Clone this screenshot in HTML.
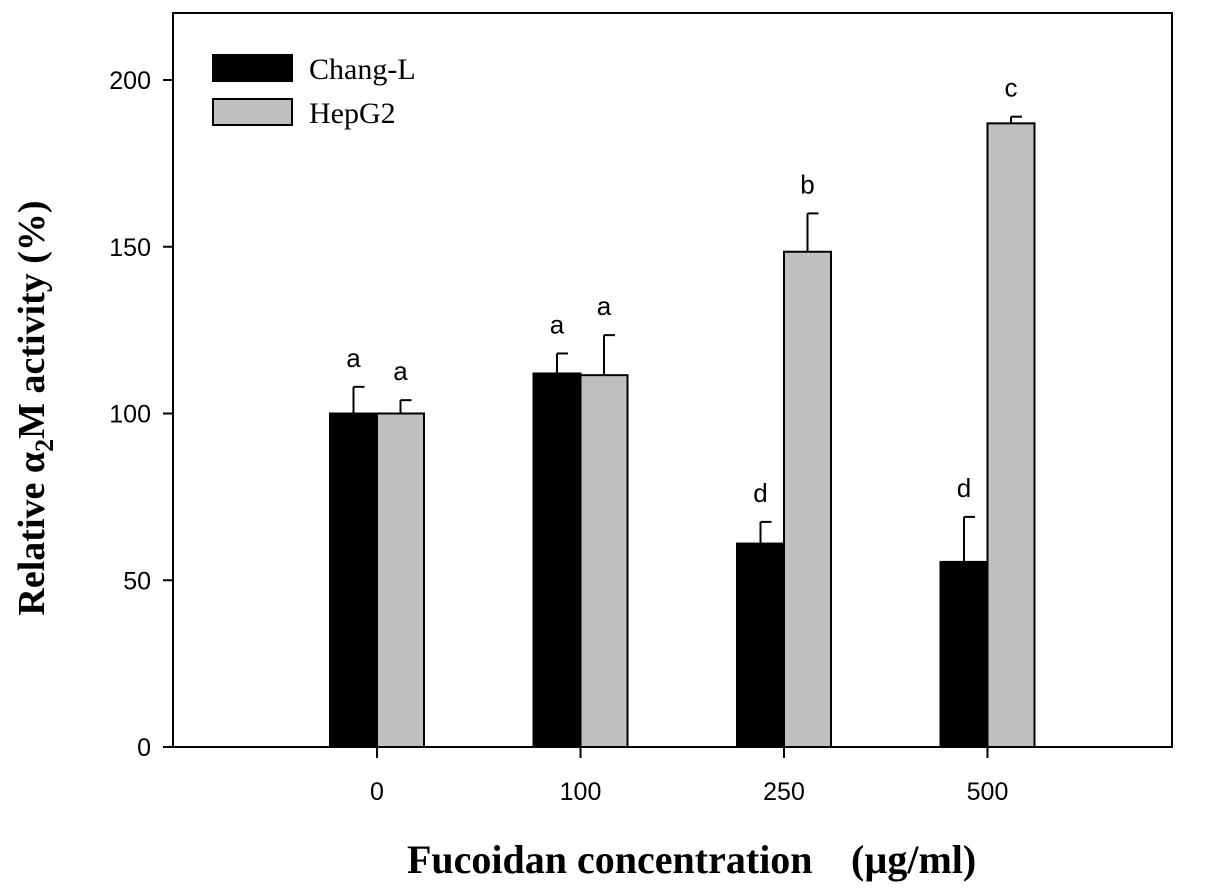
<!DOCTYPE html>
<html><head><meta charset="utf-8"><style>
html,body{margin:0;padding:0;background:#fff;}
svg{display:block;}
</style></head><body>
<svg id="chart" width="1205" height="891" xmlns="http://www.w3.org/2000/svg">
<g id="plot"></g>
</svg>
<script>
const categories = ["0","100","250","500"];
const changValues = [100,112,61,55.5];
const changErrors = [8,6,6.5,13.5];
const hepValues = [100,111.5,148.5,187];
const hepErrors = [4,12,11.5,2];
const changLetters = ["a","a","d","d"];
const hepLetters = ["a","a","b","c"];
const yTicks = [0,50,100,150,200];

const NS="http://www.w3.org/2000/svg";
const g=document.getElementById('plot');
const L=173,R=1172,T=13,B=747;
const y=v=>747-(v)*(667/200);
const xc=i=>377+i*203.5;
const BW=47;
function mk(tag,attrs,parent){const e=document.createElementNS(NS,tag);for(const k in attrs)e.setAttribute(k,attrs[k]);(parent||g).appendChild(e);return e;}

const frame=mk('rect',{x:L,y:T,width:R-L,height:B-T,fill:'none',stroke:'#000','stroke-width':2});



yTicks.forEach(t=>{
  const ln=mk('line',{x1:L-10,x2:L,y1:y(t),y2:y(t),stroke:'#000','stroke-width':2});
  
  
  const tx=mk('text',{x:L-22,y:y(t)+9,'text-anchor':'end','font-family':'Liberation Sans, sans-serif','font-size':25});
  tx.textContent=t;
  
  
});

function errBar(cx,v,e){
  const top=y(v+e);
  const a=mk('line',{x1:cx,x2:cx,y1:y(v),y2:top,stroke:'#000','stroke-width':2});
  
  
  const c=mk('line',{x1:cx,x2:cx+11,y1:top,y2:top,stroke:'#000','stroke-width':2});
  
  
}
function letter(cx,v,s){
  const t=mk('text',{x:cx,y:v-20,'text-anchor':'middle','font-family':'Liberation Sans, sans-serif','font-size':26});
  t.textContent=s;
  
  
}

categories.forEach((c,i)=>{
  const cx=xc(i);
  const b1=mk('rect',{x:cx-BW,y:y(changValues[i]),width:BW,height:B-y(changValues[i]),fill:'#000',stroke:'#000','stroke-width':2});
  
  
  const b2=mk('rect',{x:cx,y:y(hepValues[i]),width:BW,height:B-y(hepValues[i]),fill:'#c0c0c0',stroke:'#000','stroke-width':2});
  
  
  errBar(cx-BW/2,changValues[i],changErrors[i]);
  errBar(cx+BW/2,hepValues[i],hepErrors[i]);
  letter(cx-BW/2,y(changValues[i]+changErrors[i]),changLetters[i]);
  letter(cx+BW/2,y(hepValues[i]+hepErrors[i]),hepLetters[i]);
  const tk=mk('line',{x1:cx,x2:cx,y1:B,y2:B+11,stroke:'#000','stroke-width':2});
  
  
  const tl=mk('text',{x:cx,y:B+53,'text-anchor':'middle','font-family':'Liberation Sans, sans-serif','font-size':25});
  tl.textContent=c;
  
  
});
</script>
<svg style="position:absolute;left:0;top:0" width="1205" height="891" xmlns="http://www.w3.org/2000/svg">
<g>
<rect x="213" y="55" width="79" height="26" fill="#000" stroke="#000" stroke-width="2"/>
<text x="309" y="79" font-family="Liberation Serif, serif" font-size="30">Chang-L</text>
<rect x="213" y="99" width="79" height="26" fill="#c0c0c0" stroke="#000" stroke-width="2"/>
<text x="309" y="123" font-family="Liberation Serif, serif" font-size="30">HepG2</text>
</g>
<text x="407" y="873" font-family="Liberation Serif, serif" font-size="40" font-weight="bold">Fucoidan concentration</text>
<text x="851" y="873" font-family="Liberation Serif, serif" font-size="40" font-weight="bold">(µg/ml)</text>
<text transform="translate(44,408) rotate(-90)" text-anchor="middle" font-family="Liberation Serif, serif" font-size="38" font-weight="bold">Relative α<tspan font-size="26" dy="9">2</tspan><tspan dy="-9">M activity (%)</tspan></text>
</svg>
</body></html>
